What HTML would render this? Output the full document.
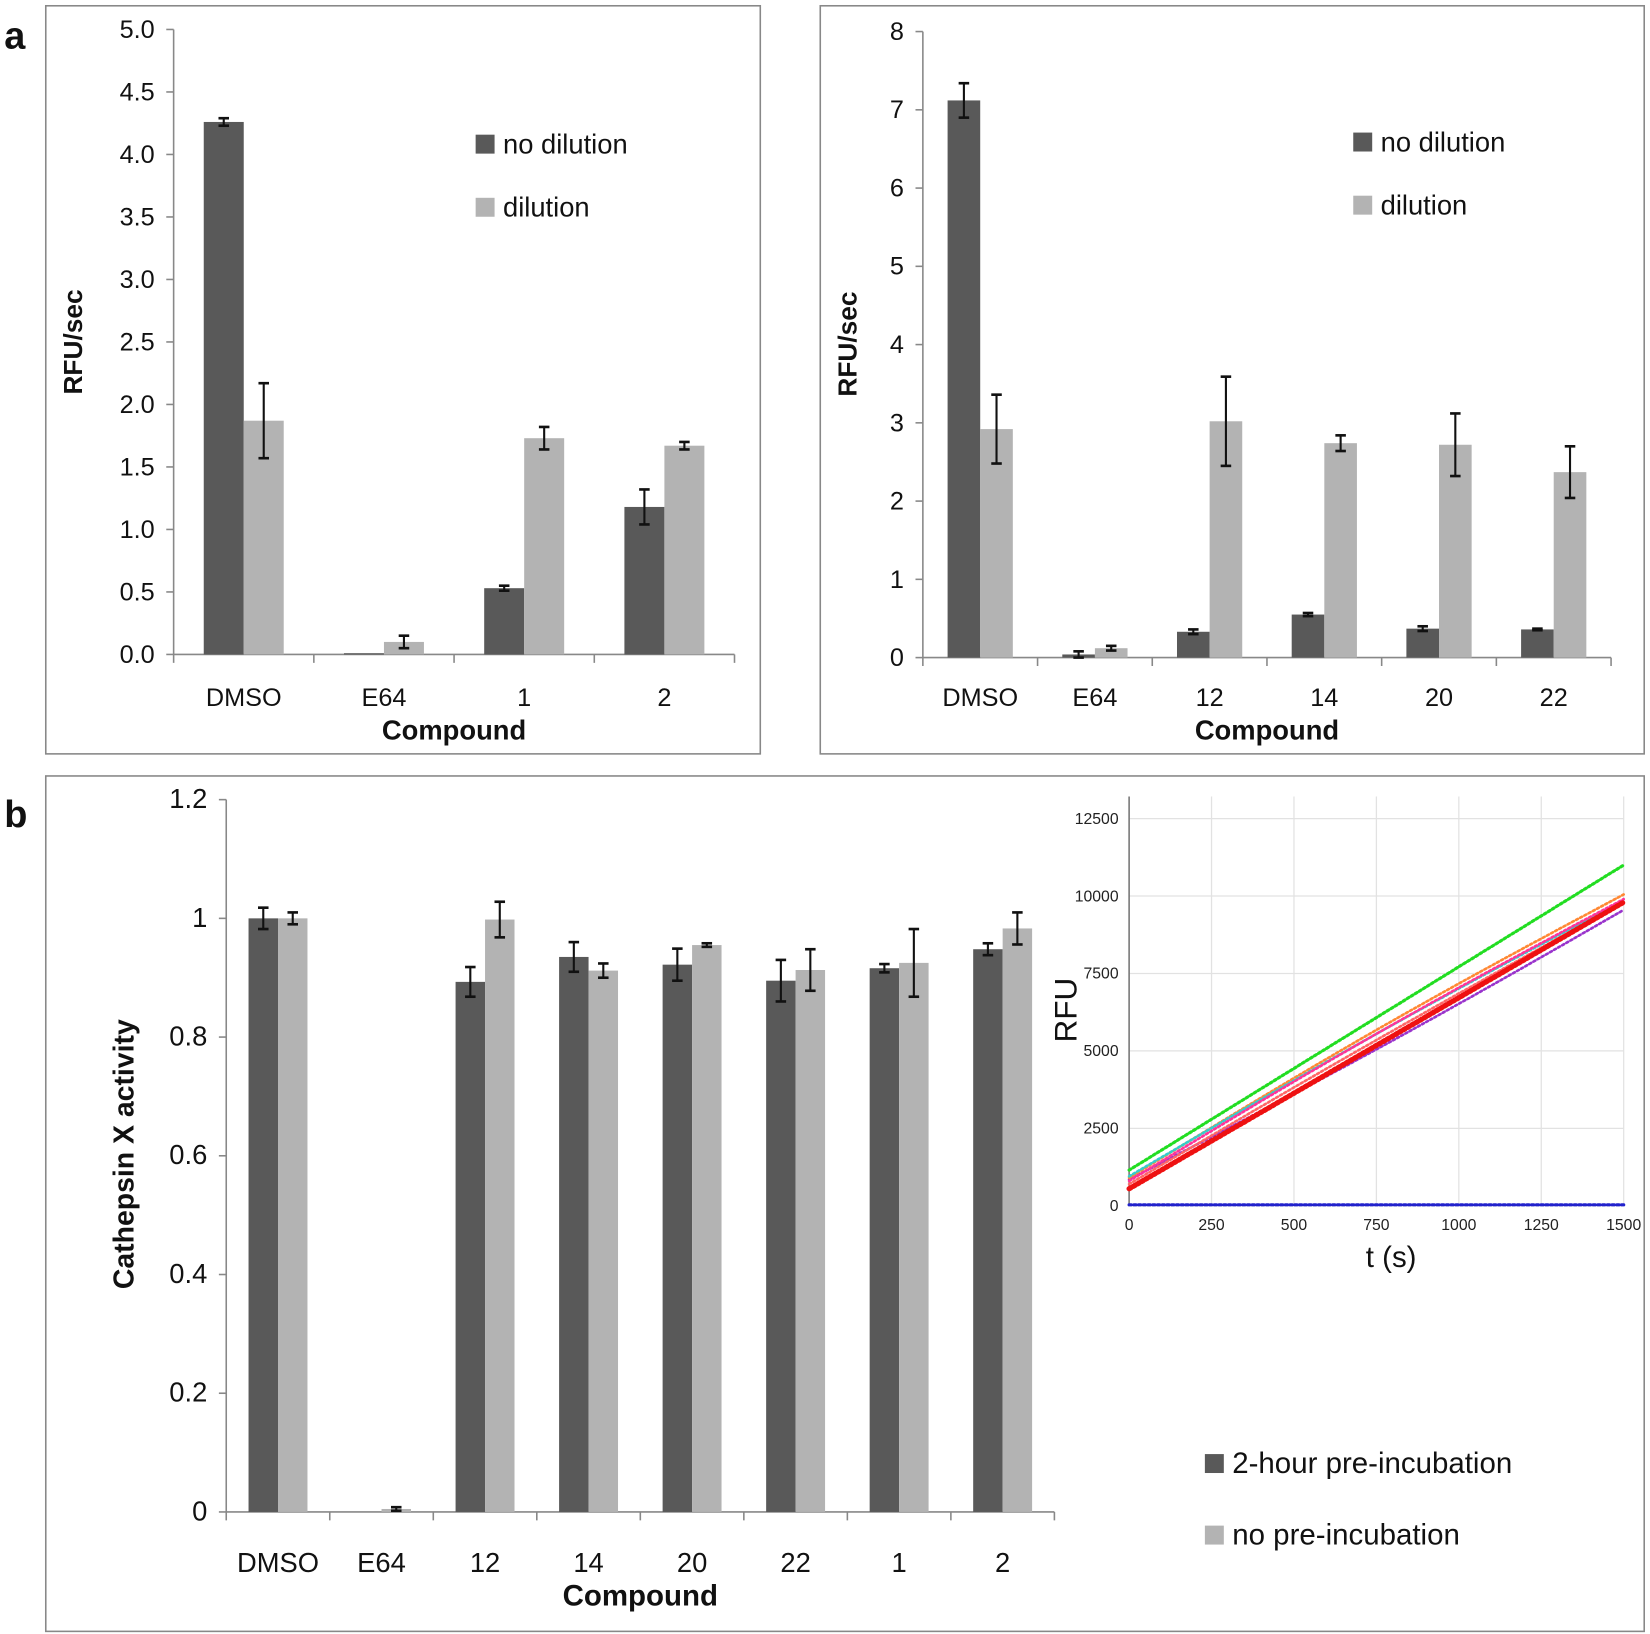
<!DOCTYPE html>
<html><head><meta charset="utf-8">
<style>
html,body{margin:0;padding:0;background:#fff;}
svg{display:block;}
text{font-family:"Liberation Sans",sans-serif;fill:#111;}
</style></head>
<body>
<svg id="s" width="1650" height="1634" viewBox="0 0 1568 1553" preserveAspectRatio="none" xmlns="http://www.w3.org/2000/svg">
<rect x="0" y="0" width="1568" height="1553" fill="#fff"/>
<rect x="43.5" y="5.5" width="679" height="711" fill="none" stroke="#888" stroke-width="1.5"/>
<rect x="779.5" y="5.5" width="783" height="711" fill="none" stroke="#888" stroke-width="1.5"/>
<rect x="43.5" y="737.5" width="1519" height="813" fill="none" stroke="#888" stroke-width="1.5"/>
<text x="4" y="46" font-size="36" font-weight="bold">a</text>
<text x="4" y="786" font-size="36" font-weight="bold">b</text>
<g id="g"></g>
</svg>
<script>
var g=document.getElementById('g'),h='';
function T(x,y,t,sz,anc,extra){h+='<text x="'+x+'" y="'+y+'" font-size="'+sz+'" text-anchor="'+(anc||'start')+'" '+(extra||'')+'>'+t+'</text>';}
function L(x1,y1,x2,y2,c,w){h+='<line x1="'+x1+'" y1="'+y1+'" x2="'+x2+'" y2="'+y2+'" stroke="'+(c||'#888')+'" stroke-width="'+(w||1.5)+'"/>';}
function R(x,y,w,hh,c){h+='<rect x="'+x+'" y="'+y+'" width="'+w+'" height="'+hh+'" fill="'+c+'"/>';}
var D='#595959',Lg='#b3b3b3';
function chart(o){
  var ax=o.ax,y0=o.y0,y1=o.y1,n=o.ticks.length-1,pu=(y0-y1)/o.max;
  L(ax,y1,ax,y0);
  o.ticks.forEach(function(t,i){var y=y0-(y0-y1)*i/n;L(ax-7,y,ax,y);T(ax-18,y+8,t,o.fs,'end');});
  var cw=(o.xe-ax)/o.cats.length;
  L(ax,y0,o.xe,y0);
  for(var i=0;i<=o.cats.length;i++)L(ax+cw*i,y0,ax+cw*i,y0+8);
  o.cats.forEach(function(c,i){
    var cx=ax+cw*i+cw/2;
    [[o.d[i],D,cx-o.bw],[o.l[i],Lg,cx]].forEach(function(b){
      var v=b[0][0],e=b[0][1],yt=y0-v*pu;
      R(b[2],yt,o.bw,y0-yt,b[1]);
      if(e>0){var m=b[2]+o.bw/2,ya=y0-(v+e)*pu,yb=y0-(v-e)*pu;L(m,ya,m,yb,'#111',2);L(m-5,ya,m+5,ya,'#111',2.5);L(m-5,yb,m+5,yb,'#111',2.5);}
    });
    T(cx,o.ly,c,o.fs,'middle');
  });
  T((ax+o.xe)/2,o.ly+32,'Compound',o.fs+2,'middle','font-weight="bold"');
  T(0,0,o.yl,o.fs+1,'middle','font-weight="bold" transform="translate('+o.ylx+','+o.yly+') rotate(-90)"');
  R(o.lgx,o.lgy,18,18,D);R(o.lgx,o.lgy+o.lsp,18,18,Lg);
  T(o.lgx+26,o.lgy+18,o.l1,o.lfs);T(o.lgx+26,o.lgy+o.lsp+18,o.l2,o.lfs);
}
chart({ax:165,y0:622,y1:28,max:5,ticks:['0.0','0.5','1.0','1.5','2.0','2.5','3.0','3.5','4.0','4.5','5.0'],fs:24,xe:698,
 cats:['DMSO','E64','1','2'],bw:38,d:[[4.26,.03],[0.01,0],[0.53,.02],[1.18,.14]],l:[[1.87,.3],[0.1,.05],[1.73,.09],[1.67,.03]],
 ly:671,yl:'RFU/sec',ylx:78,yly:325,lgx:452,lgy:128,lsp:60,l1:'no dilution',l2:'dilution',lfs:26});
chart({ax:877,y0:625,y1:30,max:8,ticks:['0','1','2','3','4','5','6','7','8'],fs:24,xe:1531,
 cats:['DMSO','E64','12','14','20','22'],bw:31,d:[[7.12,.22],[0.04,.04],[0.33,.03],[0.55,.02],[0.37,.03],[0.36,.01]],l:[[2.92,.44],[0.12,.03],[3.02,.57],[2.74,.1],[2.72,.4],[2.37,.33]],
 ly:671,yl:'RFU/sec',ylx:814,yly:327,lgx:1286,lgy:126,lsp:60,l1:'no dilution',l2:'dilution',lfs:26});
chart({ax:215,y0:1437,y1:760,max:1.2,ticks:['0','0.2','0.4','0.6','0.8','1','1.2'],fs:26,xe:1002,
 cats:['DMSO','E64','12','14','20','22','1','2'],bw:28,d:[[1,.018],[0,0],[0.893,.025],[0.935,.025],[0.922,.027],[0.895,.035],[0.916,.007],[0.948,.01]],l:[[1,.01],[0.005,.003],[0.998,.03],[0.912,.012],[0.955,.003],[0.913,.035],[0.925,.057],[0.983,.027]],
 ly:1494,yl:'Cathepsin X activity',ylx:127,yly:1097,lgx:1145,lgy:1382,lsp:68,l1:'2-hour pre-incubation',l2:'no pre-incubation',lfs:28});
// inset
var ix0=1073,ix1=1543,iy0=1146,iy1=778;
function X(t){return ix0+(ix1-ix0)*t/1500;}function Y(v){return iy0-(iy0-iy1)*v/12500;}
for(var t=250;t<=1500;t+=250)L(X(t),757,X(t),iy0,'#e2e2e2',1.2);
for(var v=2500;v<=12500;v+=2500)L(ix0,Y(v),ix1,Y(v),'#e2e2e2',1.2);
L(ix0,757,ix0,iy0,'#777',1.5);L(ix0,iy0,ix1,iy0,'#ccc',1);
for(var v=0;v<=12500;v+=2500)T(ix0-10,Y(v)+5,v,15,'end','style="fill:#222"');
for(var t=0;t<=1500;t+=250)T(X(t),iy0+23,t,15,'middle','style="fill:#222"');
T(0,0,'RFU',30,'middle','transform="translate(1023,960) rotate(-90)"');
T(1322,1204,'t (s)',28,'middle');
function line(a,b,c,w,bow){var p='';for(var i=0;i<=60;i++){var t=i*25,v=a+(b-a)*t/1500+(bow||0)*Math.sin(Math.PI*t/1500);p+=X(t).toFixed(1)+','+Y(v).toFixed(1)+' ';}
 h+='<polyline points="'+p+'" fill="none" stroke="'+c+'" stroke-width="'+w+'" stroke-dasharray="2 2.5" stroke-linecap="round"/>';}
line(30,30,'#2222cc',3);
line(850,9550,'#9933cc',2.5,-150);
line(900,10050,'#ff8833',2.5,200);
line(950,9850,'#33cccc',2.5,150);
line(800,9900,'#ff3399',2.5,200);
line(700,9800,'#ff6666',2.5,100);
line(550,9800,'#ee1111',5,0);
line(1150,11000,'#22dd22',3,0);
g.innerHTML=h;
</script>
</body></html>
